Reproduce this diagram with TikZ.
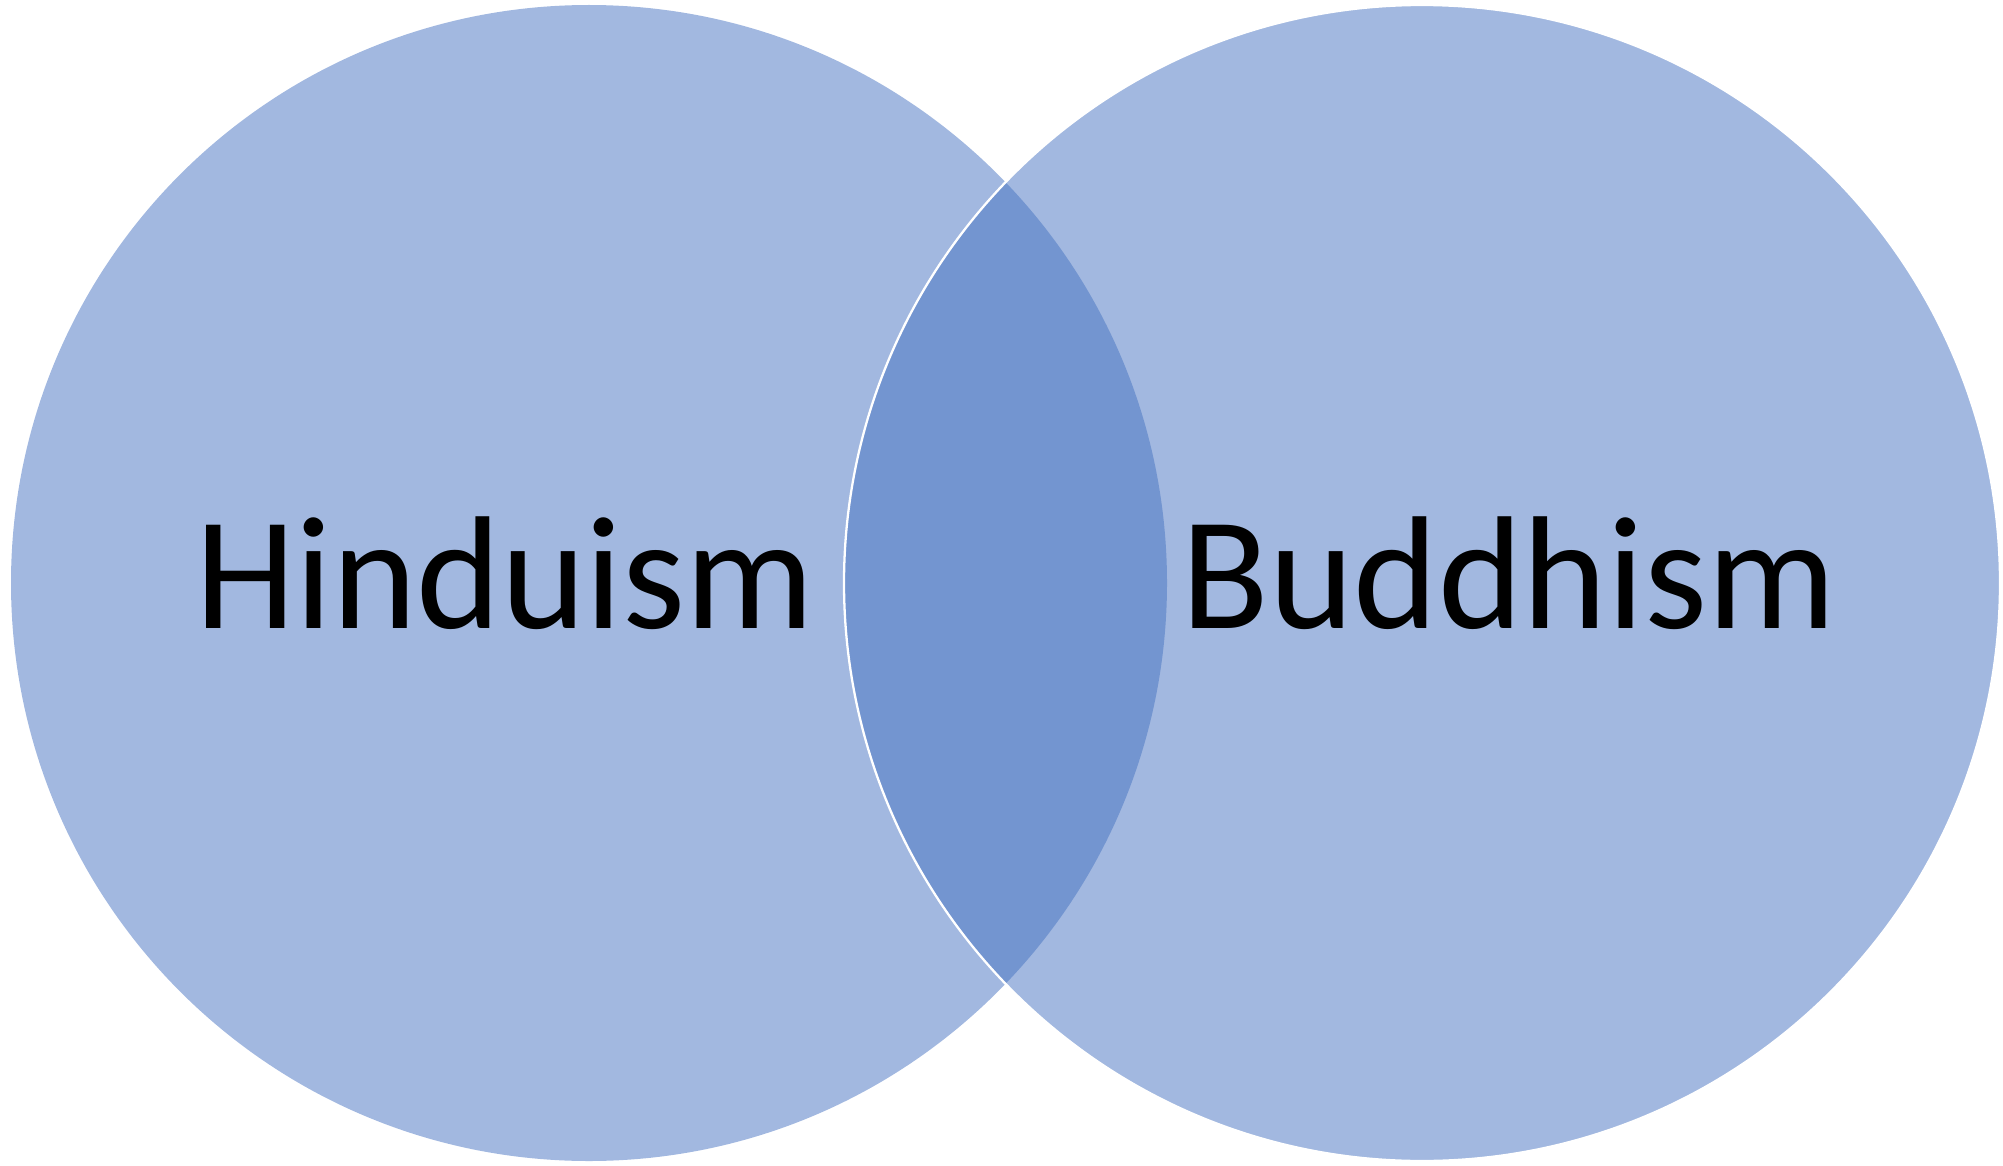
\documentclass[tikz,border=0pt]{standalone}
\usepackage{fontspec}
\setmainfont{Carlito}
\usetikzlibrary{positioning}
\definecolor{vennlight}{RGB}{162,184,224}
\definecolor{venndark}{RGB}{115,149,208}
\tikzset{
  setlabel/.style={anchor=base, inner sep=0pt,
    font=\fontsize{45.8pt}{55pt}\selectfont},
}

\begin{document}
\begin{tikzpicture}
    \useasboundingbox (0,0) rectangle (20.03,11.65);
    \coordinate (H) at (5.89,5.82);
    \coordinate (B) at (14.22,5.82);

    \fill[vennlight] (H) circle (5.78);
    \fill[vennlight] (B) circle (5.78);
    \begin{scope}
      \clip (H) circle (5.78);
      \fill[venndark] (B) circle (5.78);
    \end{scope}
    \draw[white, line width=0.65pt] (B) circle (5.78);

    \node (hindu) [setlabel] at (5.05,5.365) {Hinduism};
    \node (buddha) [setlabel] at (15.09,5.365) {Buddhism};

  \end{tikzpicture}
\end{document}
